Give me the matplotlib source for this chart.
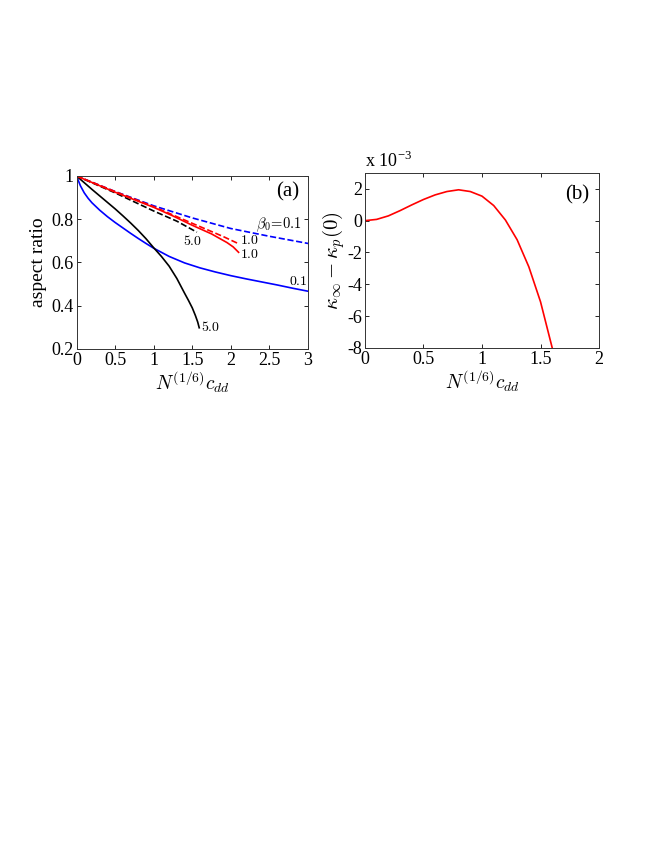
import numpy as np
import matplotlib
matplotlib.use("Agg")
import matplotlib.pyplot as plt

plt.rcParams['font.family'] = ['Liberation Serif', 'DejaVu Serif']
plt.rcParams['mathtext.fontset'] = 'cm'
plt.rcParams['font.size'] = 13
plt.rcParams['axes.unicode_minus'] = False

# ---- panel (a): aspect ratio vs N^(1/6) c_dd ----
x_blue_solid = [0.0, 0.05, 0.1, 0.15, 0.2, 0.3, 0.4, 0.5, 0.6, 0.7, 0.8, 0.9, 1.0, 1.2, 1.4, 1.6, 1.8, 2.0, 2.2, 2.4, 2.6, 2.8, 3.0]
y_blue_solid = [1.0, 0.955, 0.922, 0.897, 0.876, 0.842, 0.812, 0.785, 0.760, 0.735, 0.711, 0.688, 0.666, 0.628, 0.598, 0.575, 0.556, 0.539, 0.524, 0.510, 0.496, 0.481, 0.467]

x_blue_dash = [0.0, 0.5, 1.0, 1.5, 2.0, 2.5, 3.0]
y_blue_dash = [1.0, 0.928, 0.862, 0.806, 0.757, 0.721, 0.688]

x_red_solid = [0.0, 0.5, 1.0, 1.25, 1.5, 1.75, 1.95, 2.03, 2.10]
y_red_solid = [1.0, 0.925, 0.855, 0.815, 0.772, 0.732, 0.692, 0.672, 0.647]

x_red_dash = [0.0, 0.5, 1.0, 1.5, 1.75, 1.9, 2.08]
y_red_dash = [1.0, 0.928, 0.858, 0.781, 0.743, 0.72, 0.69]

x_black_solid = [0.0, 0.2, 0.4, 0.5, 0.6, 0.7, 0.8, 0.9, 1.0, 1.1, 1.2, 1.3, 1.4, 1.45, 1.5, 1.54, 1.57, 1.59]
y_black_solid = [1.0, 0.938, 0.878, 0.848, 0.816, 0.783, 0.748, 0.71, 0.668, 0.628, 0.583, 0.526, 0.458, 0.425, 0.39, 0.355, 0.325, 0.298]

x_black_dash = [0.0, 0.5, 1.0, 1.3, 1.56]
y_black_dash = [1.0, 0.922, 0.838, 0.791, 0.74]

# ---- panel (b): kappa_inf - kappa_p(0) (x 1e-3) ----
x_b = [0.0, 0.1, 0.2, 0.3, 0.4, 0.5, 0.6, 0.7, 0.8, 0.9, 1.0, 1.1, 1.2, 1.3, 1.4, 1.5, 1.6]
y_b = [0.0, 0.08, 0.3, 0.63, 0.99, 1.33, 1.62, 1.83, 1.94, 1.83, 1.54, 0.95, 0.04, -1.2, -2.9, -5.1, -8.0]

fig = plt.figure(figsize=(6.54, 8.46), dpi=100)
ax1 = fig.add_axes([0.117, 0.5875, 0.354, 0.2045])
ax2 = fig.add_axes([0.558, 0.5887, 0.358, 0.2069])

lw = 1.2
ax1.plot(x_blue_dash, y_blue_dash, color='#0000ff', ls='--', lw=lw)
ax1.plot(x_blue_solid, y_blue_solid, color='#0000ff', lw=lw)
ax1.plot(x_black_solid, y_black_solid, color='black', lw=lw)
ax1.plot(x_black_dash, y_black_dash, color='black', ls='--', lw=lw)
ax1.plot(x_red_dash, y_red_dash, color='#ff0000', ls='--', lw=lw)
ax1.plot(x_red_solid, y_red_solid, color='#ff0000', lw=lw)

ax1.set_xlim(0, 3)
ax1.set_ylim(0.2, 1)
ax1.set_xticks([0, 0.5, 1, 1.5, 2, 2.5, 3])
ax1.set_xticklabels(['0', '0.5', '1', '1.5', '2', '2.5', '3'])
ax1.set_yticks([0.2, 0.4, 0.6, 0.8, 1])
ax1.set_yticklabels(['0.2', '0.4', '0.6', '0.8', '1'])
ax1.set_xlabel(r'$N^{(1/6)}c_{dd}$', labelpad=0, fontsize=14)
ax1.set_ylabel('aspect ratio', labelpad=3, fontsize=14)

fs_lab = 10
ax1.text(2.32, 0.775, r'$\beta_0\!=\!0.1$', fontsize=fs_lab + 0.5, va='center')
ax1.text(2.12, 0.70, r'$1.0$', fontsize=fs_lab, va='center')
ax1.text(2.12, 0.638, r'$1.0$', fontsize=fs_lab, va='center')
ax1.text(1.38, 0.70, r'$5.0$', fontsize=fs_lab, va='center')
ax1.text(2.75, 0.51, r'$0.1$', fontsize=fs_lab, va='center')
ax1.text(1.61, 0.30, r'$5.0$', fontsize=fs_lab, va='center')
ax1.text(0.96, 0.91, '(a)', transform=ax1.transAxes, ha='right', va='center', fontsize=15)

ax2.plot(x_b, y_b, color='#ff0000', lw=lw)
ax2.set_xlim(0, 2)
ax2.set_ylim(-8, 3)
ax2.set_xticks([0, 0.5, 1, 1.5, 2])
ax2.set_xticklabels(['0', '0.5', '1', '1.5', '2'])
ax2.set_yticks([-8, -6, -4, -2, 0, 2])
ax2.set_xlabel(r'$N^{(1/6)}c_{dd}$', labelpad=0, fontsize=14)
ax2.set_ylabel(r'$\kappa_\infty - \kappa_p(0)$', labelpad=0, fontsize=15)
ax2.text(0.0, 1.01, r'x 10$^{\mathregular{-3}}$', transform=ax2.transAxes, ha='left', va='bottom', fontsize=13)
ax2.text(0.96, 0.875, '(b)', transform=ax2.transAxes, ha='right', va='center', fontsize=15)

for ax in (ax1, ax2):
    ax.tick_params(direction='in', top=True, right=True, length=3, width=0.6, labelsize=13, pad=2)
    for sp in ax.spines.values():
        sp.set_linewidth(0.7)
        sp.set_color('#333333')

fig.savefig('out.png', dpi=100)
